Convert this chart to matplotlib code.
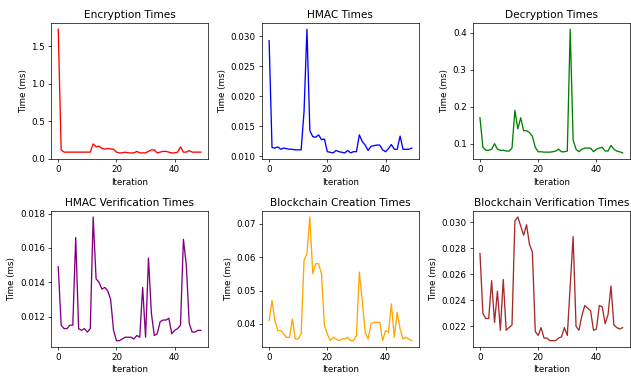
import numpy as np
import matplotlib
matplotlib.use("Agg")
import matplotlib.pyplot as plt

iterations = list(range(50))

encryption_times = [1.73, 0.12, 0.09, 0.09, 0.09, 0.09, 0.09, 0.09, 0.09, 0.09,
                    0.09, 0.09, 0.20, 0.16, 0.17, 0.14, 0.13, 0.14, 0.13, 0.13,
                    0.09, 0.08, 0.08, 0.09, 0.08, 0.08, 0.08, 0.10, 0.08, 0.08,
                    0.08, 0.10, 0.12, 0.12, 0.08, 0.09, 0.10, 0.10, 0.09, 0.08,
                    0.08, 0.09, 0.16, 0.09, 0.09, 0.11, 0.09, 0.09, 0.09, 0.09]

hmac_times = [0.0293, 0.0115, 0.0114, 0.0116, 0.0112, 0.0114, 0.0113, 0.0112, 0.0112, 0.0111,
              0.0111, 0.0111, 0.0175, 0.0312, 0.0143, 0.0133, 0.0132, 0.0136, 0.0128, 0.0129,
              0.0108, 0.0107, 0.0106, 0.0110, 0.0108, 0.0107, 0.0106, 0.0110, 0.0106, 0.0108,
              0.0108, 0.0136, 0.0125, 0.0119, 0.0110, 0.0117, 0.0118, 0.0119, 0.0119, 0.0111,
              0.0108, 0.0113, 0.0120, 0.0112, 0.0112, 0.0134, 0.0112, 0.0112, 0.0112, 0.0114]

decryption_times = [0.170, 0.090, 0.082, 0.082, 0.085, 0.100, 0.085, 0.082, 0.082, 0.080,
                    0.080, 0.088, 0.190, 0.140, 0.170, 0.135, 0.135, 0.130, 0.120, 0.090,
                    0.078, 0.078, 0.077, 0.077, 0.077, 0.078, 0.080, 0.085, 0.078, 0.078,
                    0.080, 0.410, 0.110, 0.085, 0.078, 0.085, 0.088, 0.088, 0.088, 0.078,
                    0.085, 0.088, 0.090, 0.080, 0.080, 0.095, 0.085, 0.080, 0.078, 0.075]

hmac_verify_times = [0.0149, 0.0115, 0.0113, 0.0113, 0.0115, 0.0115, 0.0166, 0.0113, 0.0112, 0.0113,
                     0.0111, 0.0113, 0.0178, 0.0142, 0.0140, 0.0136, 0.0137, 0.0135, 0.0130, 0.0112,
                     0.0106, 0.0106, 0.0107, 0.0108, 0.0108, 0.0108, 0.0107, 0.0109, 0.0108, 0.0137,
                     0.0108, 0.0154, 0.0122, 0.0109, 0.0110, 0.0117, 0.0118, 0.0118, 0.0119, 0.0110,
                     0.0112, 0.0113, 0.0115, 0.0165, 0.0150, 0.0116, 0.0111, 0.0111, 0.0112, 0.0112]

chain_create_times = [0.0410, 0.0470, 0.0410, 0.0380, 0.0380, 0.0370, 0.0360, 0.0360, 0.0415, 0.0355,
                      0.0355, 0.0370, 0.0590, 0.0610, 0.0720, 0.0550, 0.0580, 0.0580, 0.0550, 0.0395,
                      0.0370, 0.0350, 0.0360, 0.0355, 0.0350, 0.0355, 0.0355, 0.0360, 0.0350, 0.0350,
                      0.0365, 0.0555, 0.0470, 0.0375, 0.0355, 0.0400, 0.0405, 0.0405, 0.0405, 0.0350,
                      0.0380, 0.0375, 0.0460, 0.0360, 0.0435, 0.0385, 0.0355, 0.0360, 0.0355, 0.0350]

chain_verify_times = [0.0276, 0.0230, 0.0226, 0.0226, 0.0255, 0.0223, 0.0247, 0.0217, 0.0256, 0.0217,
                      0.0219, 0.0221, 0.0301, 0.0304, 0.0297, 0.0290, 0.0298, 0.0283, 0.0277, 0.0216,
                      0.0213, 0.0219, 0.0211, 0.0211, 0.0209, 0.0209, 0.0209, 0.0211, 0.0212, 0.0219,
                      0.0213, 0.0251, 0.0289, 0.0220, 0.0217, 0.0228, 0.0236, 0.0234, 0.0232, 0.0217,
                      0.0218, 0.0236, 0.0235, 0.0222, 0.0229, 0.0251, 0.0221, 0.0219, 0.0218, 0.0219]

titles = ["Encryption Times", "HMAC Times", "Decryption Times",
          "HMAC Verification Times", "Blockchain Creation Times", "Blockchain Verification Times"]
series = [encryption_times, hmac_times, decryption_times,
          hmac_verify_times, chain_create_times, chain_verify_times]
colors = ["red", "blue", "green", "purple", "orange", "brown"]

fig, axes = plt.subplots(2, 3, figsize=(631 / 63, 377 / 63), dpi=63)
fig.subplots_adjust(left=0.081, right=0.998, bottom=0.08, top=0.939,
                    wspace=0.344, hspace=0.38)

for ax, title, values, color in zip(axes.flat, titles, series, colors):
    ax.plot(iterations, values, color=color)
    ax.set_title(title)
    ax.set_xlabel("Iteration")
    ax.set_ylabel("Time (ms)")

fig.savefig("out.png", dpi=63)
